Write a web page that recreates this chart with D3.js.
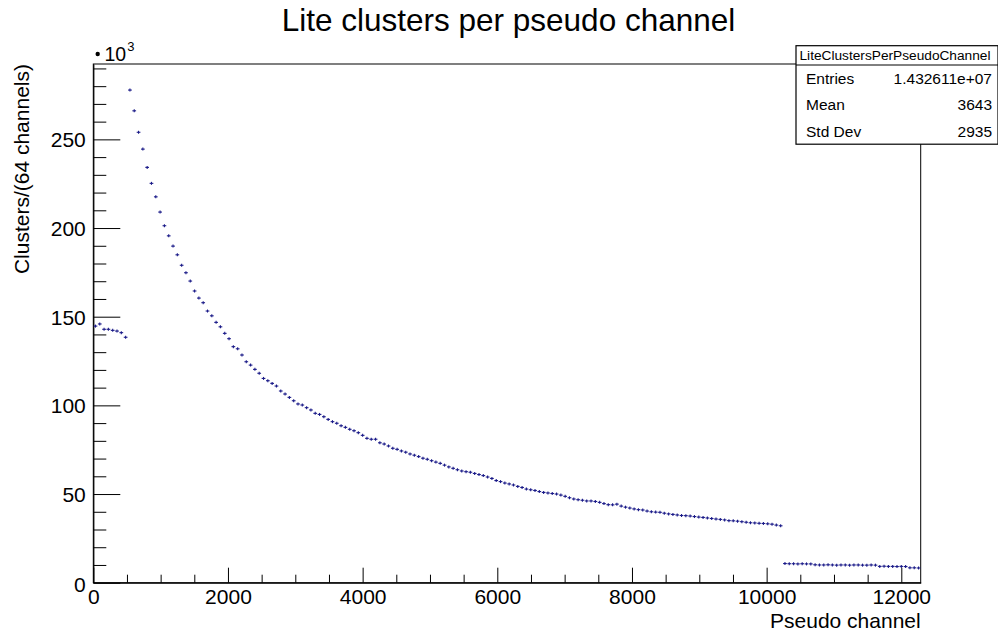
<!DOCTYPE html>
<html>
<head>
<meta charset="utf-8">
<script src="https://cdn.jsdelivr.net/npm/d3@7/dist/d3.min.js"></script>
<style>
  html, body { margin: 0; padding: 0; background: #fff; }
  svg { display: block; font-family: "Liberation Sans", Arial, Helvetica, sans-serif; }
</style>
</head>
<body>
<svg id="chart" width="998" height="632"></svg>
<script>
// Histogram: lite clusters per pseudo channel, 192 bins of 64 channels each
const binWidth = 64;
const nBins = 192;

// Bin contents in units of 10^3 clusters
const clustersK = [
  144.7, 145.9, 142.9, 142.9, 142.3, 141.9, 141.0, 138.4,
  277.8, 266.1, 254.0, 244.5, 234.2, 225.2, 217.6, 209.0, 201.3, 195.6,
  189.8, 184.9, 179.0, 174.8, 170.1, 164.5, 160.5, 157.9, 153.2, 150.5,
  146.8, 144.3, 140.6, 137.6, 133.1, 131.9,
  128.4, 124.6, 122.7, 120.3, 118.1, 115.2, 113.9, 112.4, 110.9, 108.1,
  106.4, 104.5, 102.6, 100.8, 100.2, 98.7, 97.4, 95.5, 94.9, 93.6,
  92.1, 90.8, 89.9, 88.5, 87.6, 86.5, 85.7, 84.6, 83.1, 81.4,
  80.9, 80.9, 78.9, 78.2, 77.1, 75.8,
  75.2, 74.3, 73.6, 72.6, 71.9, 71.1, 70.2, 69.6, 68.8, 68.0,
  67.3, 66.3, 65.3, 64.5, 63.7, 63.0, 62.6, 62.3, 61.6, 61.0,
  60.4, 59.6, 58.8, 57.6, 57.0, 56.2, 55.7, 55.1, 54.3, 53.7,
  52.8, 52.4, 52.0, 51.4, 50.9, 50.6, 50.3, 50.0, 49.4, 48.7,
  47.9, 47.2, 46.8, 46.5, 46.1, 46.1, 45.8, 45.3, 44.6, 44.0,
  43.9, 44.3, 43.2, 42.6, 42.1, 41.6, 41.2,
  41.0, 40.4, 40.0, 39.8, 39.7, 39.2, 38.8, 38.5, 38.2, 37.9,
  37.8, 37.6, 37.3, 37.0, 36.8, 36.5, 36.2, 35.9, 35.7, 35.4,
  35.0, 34.9, 34.7, 34.4, 34.1, 33.8, 33.7, 33.5, 33.4, 33.2,
  33.0, 32.5, 32.1,
  10.8, 10.7, 10.7, 10.6, 10.7, 10.6, 10.6,
  10.1, 10.0, 10.0, 10.1, 10.0, 9.9, 10.0, 10.0, 9.9, 10.0, 10.0, 9.9, 9.9, 10.0, 9.9,
  9.2, 9.3, 9.2, 9.2, 9.1, 9.2, 9.1,
  8.4, 8.4, 8.3
];

const xMajorTicks = [0, 2000, 4000, 6000, 8000, 10000, 12000];
const yMajorTicks = [0, 50, 100, 150, 200, 250];

const titleText = "Lite clusters per pseudo channel";
const xLabel = "Pseudo channel";
const yLabel = "Clusters/(64 channels)";

const statsName = "LiteClustersPerPseudoChannel";
const statsLabels = ["Entries", "Mean", "Std Dev"];
const statsValues = ["1.432611e+07", "3643", "2935"];

const bins = clustersK.map((v, i) => ({ lo: i * binWidth, hi: (i + 1) * binWidth, v }));

const svg = d3.select("#chart");
const frame = { left: 93.3, right: 920.7, top: 64, bottom: 582.7 };

const x = d3.scaleLinear().domain([0, nBins * binWidth]).range([frame.left, frame.right]);
const y = d3.scaleLinear().domain([0, 292.5]).range([frame.bottom, frame.top]);

svg.append("rect").attr("width", 998).attr("height", 632).attr("fill", "#fff");

// Frame
svg.append("rect")
  .attr("x", frame.left).attr("y", frame.top)
  .attr("width", frame.right - frame.left).attr("height", frame.bottom - frame.top)
  .attr("fill", "none").attr("stroke", "#000").attr("stroke-width", 1);

// X axis: minor ticks every 500, majors every 2000
const xMinor = d3.range(0, nBins * binWidth + 1, 500).filter(t => t % 2000 !== 0);
svg.append("g")
  .attr("transform", `translate(0,${frame.bottom})`)
  .call(d3.axisBottom(x).tickValues(xMinor).tickSize(-8).tickFormat(""))
  .call(g => g.select(".domain").remove());
const gx = svg.append("g")
  .attr("transform", `translate(0,${frame.bottom})`)
  .call(d3.axisBottom(x).tickValues(xMajorTicks).tickSize(-15).tickSizeOuter(0).tickPadding(6).tickFormat(d3.format("d")));

// Y axis: minor ticks every 10, majors every 50
const yMinor = d3.range(0, 292, 10).filter(t => t % 50 !== 0);
svg.append("g")
  .attr("transform", `translate(${frame.left},0)`)
  .call(d3.axisLeft(y).tickValues(yMinor).tickSize(-13).tickFormat(""))
  .call(g => g.select(".domain").remove());
const gy = svg.append("g")
  .attr("transform", `translate(${frame.left},0)`)
  .call(d3.axisLeft(y).tickValues(yMajorTicks).tickSize(-27).tickSizeOuter(0).tickPadding(7.5).tickFormat(d3.format("d")));

svg.selectAll(".tick line").attr("stroke", "#000").attr("stroke-width", 1);
svg.selectAll(".domain").attr("stroke", "#000").attr("stroke-width", 1.2);
gx.selectAll("text").attr("font-size", 21).attr("fill", "#000")
  .attr("font-family", "Liberation Sans, Arial, sans-serif");
gy.selectAll("text").attr("font-size", 21).attr("fill", "#000")
  .attr("font-family", "Liberation Sans, Arial, sans-serif").attr("dy", "0.36em");
// The zero labels sit a little lower, as ROOT places them
gy.selectAll(".tick text").filter(d => d === 0).attr("dy", "0.44em");

// Histogram points with error bars
const markColor = "#1a1a88";
const marks = svg.append("g").attr("stroke", markColor).attr("stroke-width", 1.1).attr("fill", "none");
marks.selectAll("line.h").data(bins).join("line").attr("class", "h")
  .attr("x1", d => x(d.lo) + 0.3).attr("x2", d => x(d.hi) - 0.3)
  .attr("y1", d => y(d.v)).attr("y2", d => y(d.v));
marks.selectAll("line.v").data(bins).join("line").attr("class", "v")
  .attr("x1", d => x((d.lo + d.hi) / 2)).attr("x2", d => x((d.lo + d.hi) / 2))
  .attr("y1", d => Math.min(y(d.v + Math.sqrt(d.v * 1000) / 1000), y(d.v) - 1.5))
  .attr("y2", d => Math.max(y(d.v - Math.sqrt(d.v * 1000) / 1000), y(d.v) + 1.5));

// Title
svg.append("text").attr("x", 508.5).attr("y", 31).attr("text-anchor", "middle")
  .attr("font-size", 31.5).attr("fill", "#000").text(titleText);

// Axis titles
svg.append("text").attr("x", frame.right).attr("y", 628).attr("text-anchor", "end")
  .attr("font-size", 21).attr("fill", "#000").text(xLabel);
svg.append("text").attr("transform", `translate(29,${frame.top}) rotate(-90)`)
  .attr("text-anchor", "end").attr("font-size", 21).attr("fill", "#000").text(yLabel);

// Exponent label above the y axis
svg.append("circle").attr("cx", 97.7).attr("cy", 54).attr("r", 2.2).attr("fill", "#000");
const expo = svg.append("text").attr("x", 104.5).attr("y", 61).attr("font-size", 19.5).attr("fill", "#000");
expo.append("tspan").text("10");
expo.append("tspan").attr("font-size", 13).attr("dx", 1).attr("dy", -10).text("3");

// Statistics box
const sb = { x: 796, y: 45.7, w: 202, head: 19.3, row: 26.4 };
const sg = svg.append("g");
sg.append("rect").attr("x", sb.x).attr("y", sb.y).attr("width", sb.w)
  .attr("height", sb.head + sb.row * statsLabels.length)
  .attr("fill", "#fff").attr("stroke", "#000").attr("stroke-width", 1.2);
sg.append("line").attr("x1", sb.x).attr("x2", sb.x + sb.w)
  .attr("y1", sb.y + sb.head).attr("y2", sb.y + sb.head).attr("stroke", "#000").attr("stroke-width", 1);
sg.append("text").attr("x", sb.x + 99).attr("y", sb.y + sb.head / 2).attr("dy", "0.36em")
  .attr("text-anchor", "middle").attr("font-size", 13.7).attr("fill", "#000").text(statsName);
statsLabels.forEach((lab, i) => {
  const cy = sb.y + sb.head + sb.row * (i + 0.5);
  sg.append("text").attr("x", sb.x + 10).attr("y", cy).attr("dy", "0.36em")
    .attr("font-size", 15.5).attr("fill", "#000").text(lab);
  sg.append("text").attr("x", sb.x + 196).attr("y", cy).attr("dy", "0.36em")
    .attr("text-anchor", "end").attr("font-size", 15.5).attr("fill", "#000").text(statsValues[i]);
});
</script>
</body>
</html>
